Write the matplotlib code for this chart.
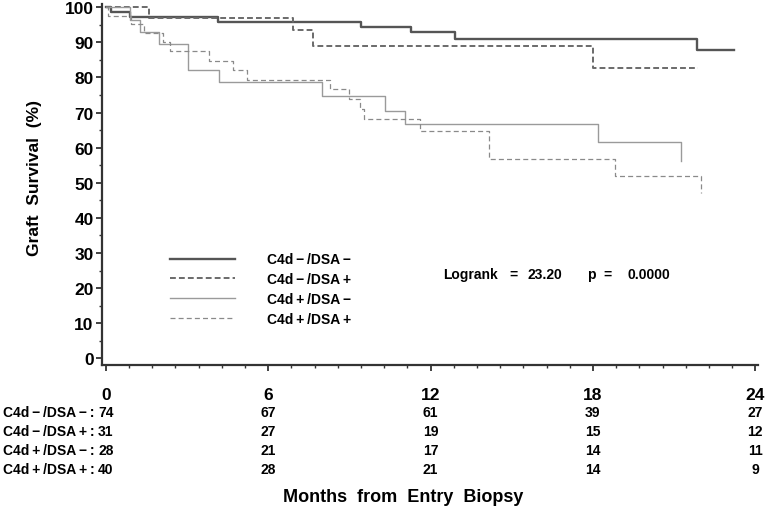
from matplotlib import pyplot as plt, rcParams
from matplotlib.ticker import MultipleLocator
from matplotlib.transforms import blended_transform_factory
from matplotlib.lines import Line2D

rcParams.update({
    'font.family': ['Liberation Sans', 'DejaVu Sans'],
    'font.weight': 'bold',
    'axes.linewidth': 1.6,
})

# Kaplan-Meier steps (months, survival %)
t_neg_neg = [0, 0.2, 0.9, 4.16, 9.44, 11.29, 12.9, 21.84, 23.2]
s_neg_neg = [100, 98.7, 97.3, 95.9, 94.3, 92.8, 90.9, 87.9, 87.9]

t_neg_pos = [0, 1.6, 6.92, 7.67, 18.0, 21.9]
s_neg_pos = [100, 96.8, 93.5, 88.9, 82.8, 82.8]

t_pos_neg = [0, 0.9, 1.27, 1.97, 3.05, 4.2, 8.0, 10.3, 11.05, 18.17, 21.26, 21.26]
s_pos_neg = [100, 96.4, 92.9, 89.4, 82.1, 78.6, 74.6, 70.5, 66.6, 61.5, 61.5, 56.3]

t_pos_pos = [0, 0.1, 0.95, 1.42, 2.13, 2.37, 3.82, 4.7, 5.23, 8.3, 8.98, 9.4, 9.54,
             11.6, 14.15, 18.8, 22.0, 22.0]
s_pos_pos = [100, 97.6, 95.1, 92.5, 90.0, 87.4, 84.7, 82.1, 79.3, 76.6, 73.8, 71.0, 68.1,
             64.8, 56.7, 52.0, 52.0, 47.2]

ts = '\u2009'
groups = ['C4d' + ts + '\u2212' + ts + '/DSA' + ts + '\u2212',
          'C4d' + ts + '\u2212' + ts + '/DSA' + ts + '+',
          'C4d' + ts + '+' + ts + '/DSA' + ts + '\u2212',
          'C4d' + ts + '+' + ts + '/DSA' + ts + '+']
risk_months = [0, 6, 12, 18, 24]
at_risk = [
    [74, 67, 61, 39, 27],
    [31, 27, 19, 15, 12],
    [28, 21, 17, 14, 11],
    [40, 28, 21, 14, 9],
]

fig = plt.figure(figsize=(7.68, 5.1), dpi=100)
ax = fig.add_axes([102 / 768, 144 / 510, 656 / 768, 361 / 510])

ax.plot(t_neg_neg, s_neg_neg, drawstyle='steps-post', color='#555555', lw=1.7)
ax.plot(t_neg_pos, s_neg_pos, drawstyle='steps-post', color='#6a6a6a', lw=1.4,
        linestyle=(0, (3, 1.6)))
ax.plot(t_pos_neg, s_pos_neg, drawstyle='steps-post', color='#9a9a9a', lw=1.0)
ax.plot(t_pos_pos, s_pos_pos, drawstyle='steps-post', color='#8a8a8a', lw=0.9,
        linestyle=(0, (4, 2.5)))

ax.set_xlim(-0.14, 24.1)
ax.set_ylim(-1.9, 100.9)
ax.spines['top'].set_visible(False)
ax.spines['right'].set_visible(False)
for s in ['left', 'bottom']:
    ax.spines[s].set_color('#333333')

ax.set_xticks(risk_months)
ax.xaxis.set_minor_locator(MultipleLocator(6 / 7))
ax.yaxis.set_major_locator(MultipleLocator(10))
ax.yaxis.set_minor_locator(MultipleLocator(5))
ax.tick_params(axis='y', which='major', length=4, width=1.3, pad=2, labelsize=12.5, colors='#333333', labelcolor='black')
ax.tick_params(axis='y', which='minor', length=2.5, width=1.0, colors='#333333')
ax.tick_params(axis='x', which='major', length=4, width=1.3, pad=12, labelsize=12.5, colors='#333333', labelcolor='black')
ax.tick_params(axis='x', which='minor', length=2.5, width=1.0, colors='#333333')

# legend
handles = [
    Line2D([], [], color='#555555', lw=1.7),
    Line2D([], [], color='#6a6a6a', lw=1.4, linestyle=(0, (3, 1.6))),
    Line2D([], [], color='#9a9a9a', lw=1.0),
    Line2D([], [], color='#8a8a8a', lw=0.9, linestyle=(0, (4, 2.5))),
]
ax.legend(handles, groups, loc='upper left', bbox_to_anchor=(55 / 656, 1 - 236 / 361),
          frameon=False, fontsize=10, handlelength=4.75, handletextpad=2.3,
          labelspacing=0.42)

# logrank statistic
for px, txt in [(443, 'Logrank'), (513, '='), (545, '23.20'),
                (591, 'p'), (608, '='), (649, '0.0000')]:
    ha = 'left' if px == 443 else 'center'
    fig.text(px / 768, 1 - 275 / 510, txt, fontsize=10, ha=ha, va='center')

# numbers at risk
trans = blended_transform_factory(ax.transData, fig.transFigure)
row_y = [413, 432.5, 451.5, 470.5]
for g, counts, py in zip(groups, at_risk, row_y):
    fig.text(3 / 768, 1 - py / 510, g + ts + ':', fontsize=10, ha='left', va='center')
    for m, c in zip(risk_months, counts):
        ax.text(m, 1 - py / 510, str(c), transform=trans, fontsize=10,
                ha='center', va='center')

fig.text(403 / 768, 1 - 498 / 510, 'Months  from  Entry  Biopsy', fontsize=13,
         ha='center', va='center')
fig.text(35 / 768, 1 - 178 / 510, 'Graft  Survival  (%)', fontsize=12.5,
         ha='center', va='center', rotation=90)

fig.savefig('out.png', dpi=100)
